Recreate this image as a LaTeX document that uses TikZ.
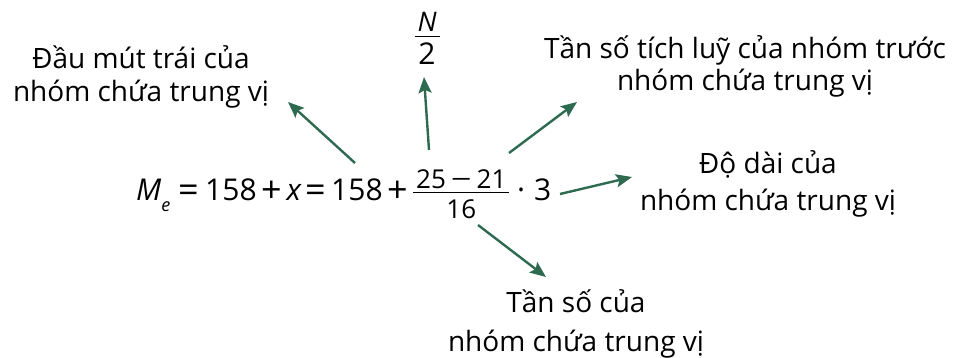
\documentclass[tikz,border=0pt]{standalone}
\usepackage{fontspec}
\usepackage{graphicx}
\setmainfont{Open Sans}
\usetikzlibrary{arrows.meta}
\definecolor{arrowgreen}{RGB}{45,106,79}
\newcommand{\fr}[4]{%
  \raisebox{#1}{\vtop{\halign{\hfil\kern#2##\kern#2\hfil\cr #3\cr
  \noalign{\kern4pt\hrule height 1.2pt\kern6pt}#4\cr}}}}
\newcommand{\bx}[2]{\makebox[#1][l]{#2}}
\newcommand{\op}[1]{\raisebox{-2pt}{\scalebox{1.2}{#1}}}
\begin{document}
\begin{tikzpicture}[x=1pt,y=1pt,
  lbl/.style={font=\fontsize{28}{34}\selectfont, align=center, inner sep=0pt, anchor=base},
  eqn/.style={font=\fontsize{30}{36}\selectfont, inner sep=0pt, anchor=base west},
  pointer/.style={draw=arrowgreen, line width=2.4pt,
    -{Stealth[length=16pt, width=13pt, inset=3pt]}}]
\useasboundingbox (0,0) rectangle (954,357);

% labels (anchor = baseline of the last line)
\node[lbl, font=\fontsize{28}{33.5}\selectfont] (left) at (141,255) {Đầu mút trái của\\nhóm chứa trung vị};
\node[lbl, font=\fontsize{28}{32.5}\selectfont] (topright) at (745,266) {Tần số tích luỹ của nhóm trước\\nhóm chứa trung vị};
\node[lbl, font=\fontsize{28}{37}\selectfont] (right) at (768,147) {Độ dài của\\nhóm chứa trung vị};
\node[lbl, font=\fontsize{28}{39}\selectfont] (bottom) at (576,6) {Tần số của\\nhóm chứa trung vị};

% N/2
\node[inner sep=0pt, anchor=base] (half) at (427,325)
  {\fr{0pt}{3pt}{\fontsize{27}{30}\selectfont\itshape N}{\fontsize{30}{32}\selectfont 2}};

% equation
\node[eqn] (eq) at (136,157) {%
  \bx{42pt}{\textit{M}\raisebox{-11pt}{\fontsize{18}{20}\selectfont\itshape e}}%
  \bx{27pt}{\op{=}}%
  \bx{54pt}{158}%
  \bx{24pt}{\kern2pt\op{+}}%
  \bx{22pt}{\kern3.5pt\textit{x}}%
  \bx{26pt}{\op{=}}%
  \bx{52pt}{158}%
  \bx{28pt}{\kern4pt\op{+}}%
  \bx{106pt}{\kern2pt{\fontsize{26}{30}\selectfont\fr{12pt}{3pt}{25\hspace{5pt}\scalebox{1.4}[1]{−}\hspace{5pt}21}{16}}}%
  \bx{17pt}{·}%
  3};

% arrow end points
\coordinate (t1) at (355,194); \coordinate (h1) at (288,255);
\coordinate (t2) at (429,207); \coordinate (h2) at (424,280);
\coordinate (t3) at (509,204); \coordinate (h3) at (577,255);
\coordinate (t4) at (560,163); \coordinate (h4) at (632,180);
\coordinate (t5) at (478,132); \coordinate (h5) at (546,80);

\draw[pointer] (t1) -- (h1);
\draw[pointer] (t2) -- (h2);
\draw[pointer] (t3) -- (h3);
\draw[pointer] (t4) -- (h4);
\draw[pointer] (t5) -- (h5);
\end{tikzpicture}
\end{document}
